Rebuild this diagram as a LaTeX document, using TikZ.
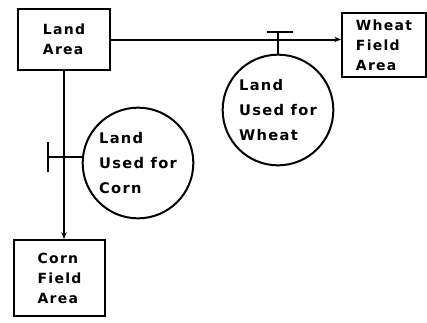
\documentclass[tikz,border=0pt]{standalone}
\usepackage{fontspec}
\newfontfamily\diagfont{DejaVu Sans}[LetterSpace=9]
\usetikzlibrary{arrows.meta}

\begin{document}
\begin{tikzpicture}[x=0.75pt,y=-0.75pt,line width=1.5pt,
  caja/.style={rectangle,draw=black,align=left,font=\diagfont\bfseries\fontsize{10.5}{15}\selectfont},
  uso/.style={circle,draw=black,align=left,minimum size=83pt,inner sep=1pt,font=\diagfont\bfseries\fontsize{11}{19}\selectfont},
  flecha/.style={-{Stealth[length=5pt,width=4pt]}},
  valvula/.style={line width=1.8pt}]
\useasboundingbox (0,0) rectangle (427,322);
\node[caja,minimum width=69pt,minimum height=45.75pt] (la) at (64,39.5){Land\\Area};
 \node[caja,minimum width=63pt,minimum height=48pt] (wf) at (384,45){Wheat\\Field\\Area};
    \draw[flecha] (la.east) to (la.east -| wf.west);
 \node[caja,minimum width=68.25pt,minimum height=57pt] (cf) at (59.5,278){Corn\\Field\\Area};
    \draw[flecha] (la.south) to (la.south |- cf.north);
   \node[uso] (lw) at (278,110){Land\\Used for\\Wheat};
   \coordinate (vw) at (280,32);
    \draw (lw.north) to (lw.north |- vw);
    \draw[valvula] ([xshift=-9.75pt]vw) to ([xshift=9.75pt]vw);
   \node[uso] (lc) at (138,163){Land\\Used for\\Corn};
   \coordinate (vc) at (48,157);
    \draw (lc.174) to (lc.174 -| vc);
    \draw[valvula] ([yshift=-11.25pt]vc) to ([yshift=11.25pt]vc);
\end{tikzpicture}
\end{document}
